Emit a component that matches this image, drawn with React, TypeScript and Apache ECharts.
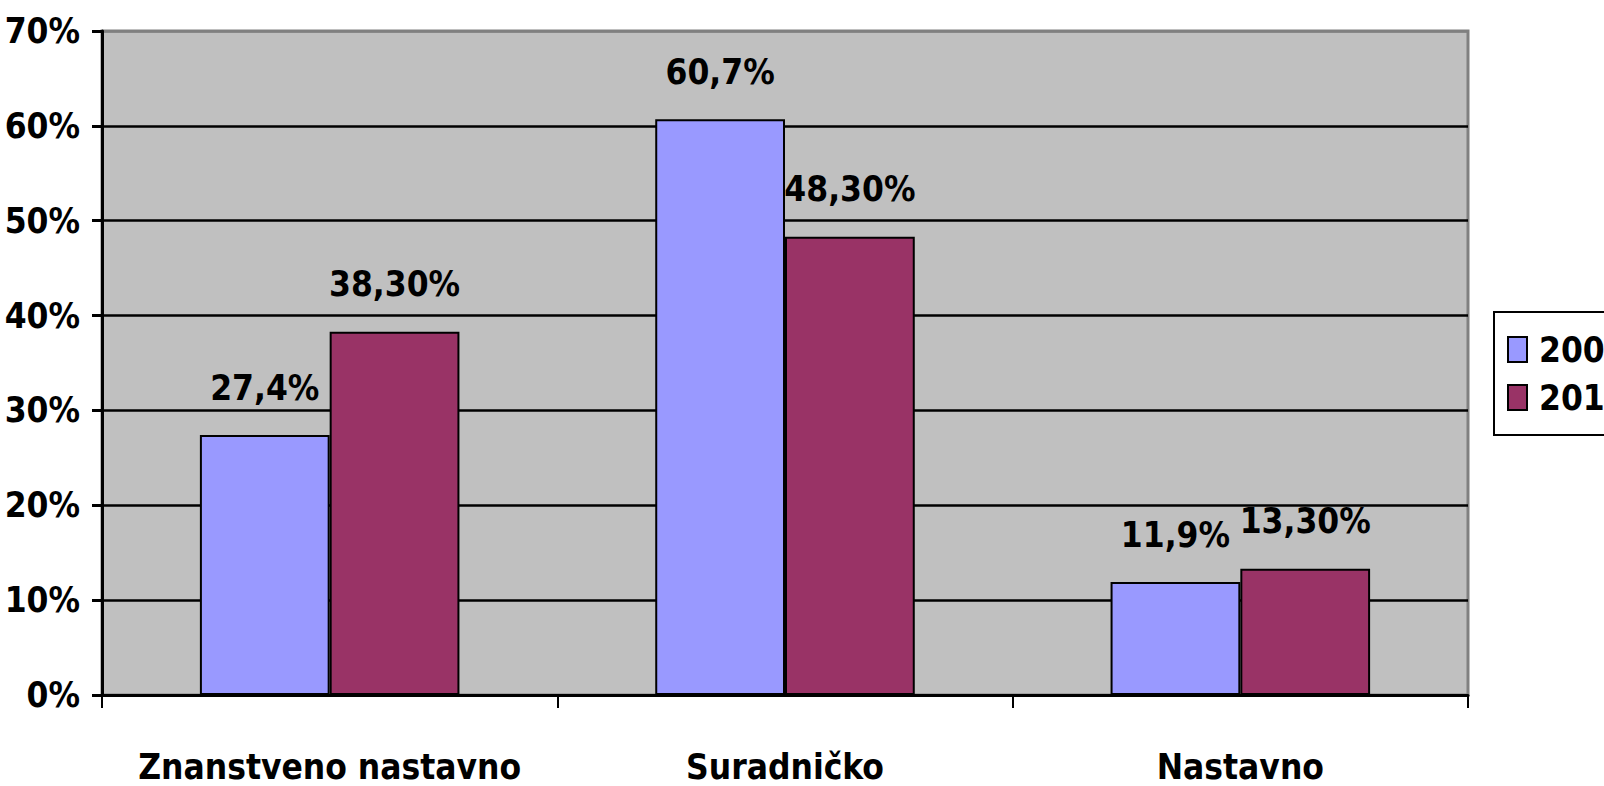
import React, { useEffect, useRef } from "react";
import * as echarts from "echarts";

const categories = ["Znanstveno nastavno", "Suradničko", "Nastavno"];
const series2009 = [27.4, 60.7, 11.9];
const series2012 = [38.3, 48.3, 13.3];
const yTicks = [0, 10, 20, 30, 40, 50, 60, 70];

const FONT = "'DejaVu Sans Condensed', 'Liberation Sans Narrow', sans-serif";
const FS = 35;

export default function App() {
  const ref = useRef<HTMLDivElement>(null);
  useEffect(() => {
    if (!ref.current) return;
    const chart = echarts.init(ref.current, null, { renderer: "svg" });
    const fmt = (d: number) => (v: number) => v.toFixed(d).replace(".", ",") + "%";
    chart.setOption({
      animation: false,
      textStyle: { fontFamily: FONT },
      grid: {
        left: 102,
        right: 136,
        top: 31,
        bottom: 91,
        outerBoundsMode: "none",
        containLabel: false,
        show: true,
        backgroundColor: "#C0C0C0",
        borderColor: "#808080",
        borderWidth: 3,
      },
      legend: {
        left: 1494,
        top: 312,
        orient: "vertical",
        backgroundColor: "#ffffff",
        borderColor: "#000000",
        borderWidth: 2,
        borderRadius: 0,
        padding: [20, 30, 20, 13],
        itemWidth: 19,
        itemHeight: 25,
        itemGap: 13,
        icon: "rect",
        textStyle: {
          fontFamily: FONT,
          fontSize: FS,
          fontWeight: "bold",
          color: "#000",
          padding: [0, 0, 0, 7],
        },
        data: ["2009", "2012"],
      },
      xAxis: {
        type: "category",
        data: categories,
        boundaryGap: true,
        axisLine: { show: true, lineStyle: { color: "#000", width: 3 } },
        axisTick: { show: true, length: 13, interval: 0, lineStyle: { color: "#000", width: 2 } },
        axisLabel: {
          interval: 0,
          margin: 54,
          fontFamily: FONT,
          fontSize: FS,
          fontWeight: "bold",
          color: "#000",
        },
        splitLine: { show: false },
      },
      yAxis: {
        type: "value",
        min: yTicks[0],
        max: yTicks[yTicks.length - 1],
        interval: 10,
        axisLine: { show: true, lineStyle: { color: "#000", width: 3 } },
        axisTick: { show: true, length: 10, lineStyle: { color: "#000", width: 3 } },
        axisLabel: {
          formatter: "{value}%",
          margin: 22,
          fontFamily: FONT,
          fontSize: FS,
          fontWeight: "bold",
          color: "#000",
        },
        splitLine: {
          show: true,
          lineStyle: {
            color: ["#000", "#000", "#000", "#000", "#000", "#000", "#000", "#808080"],
            width: 2.5,
          },
        },
      },
      series: [
        {
          name: "2009",
          type: "bar",
          data: series2009,
          barGap: "0%",
          barCategoryGap: "43%",
          itemStyle: { color: "#9999FF", borderColor: "#000", borderWidth: 2 },
          label: {
            show: true,
            position: "top",
            distance: 30,
            formatter: (p: any) => fmt(1)(p.value),
            fontFamily: FONT,
            fontSize: FS,
            fontWeight: "bold",
            color: "#000",
          },
        },
        {
          name: "2012",
          type: "bar",
          data: series2012,
          barGap: "0%",
          barCategoryGap: "43%",
          itemStyle: { color: "#993366", borderColor: "#000", borderWidth: 2 },
          label: {
            show: true,
            position: "top",
            distance: 30,
            formatter: (p: any) => fmt(2)(p.value),
            fontFamily: FONT,
            fontSize: FS,
            fontWeight: "bold",
            color: "#000",
          },
        },
      ],
    });
    return () => chart.dispose();
  }, []);
  return (
    <div
      ref={ref}
      style={{ position: "absolute", left: 0, top: 0, width: 1604, height: 786, background: "#fff" }}
    />
  );
}
